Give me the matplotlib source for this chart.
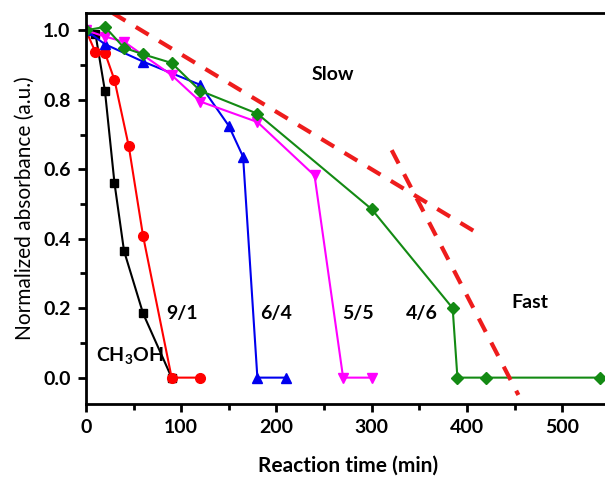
import matplotlib
matplotlib.use("Agg")
import matplotlib.pyplot as plt
from matplotlib.ticker import MultipleLocator

plt.rcParams['font.family'] = ['Lato', 'DejaVu Sans']
plt.rcParams['font.weight'] = 'bold'
plt.rcParams['mathtext.fontset'] = 'custom'
plt.rcParams['mathtext.bf'] = 'Lato:bold'
plt.rcParams['mathtext.rm'] = 'Lato:bold'
plt.rcParams['mathtext.default'] = 'bf'

# CH3OH
t_meoh = [0, 10, 20, 30, 40, 60, 90]
a_meoh = [1.0, 0.99, 0.825, 0.56, 0.365, 0.185, 0.0]
# 9/1
t_91 = [0, 10, 20, 30, 45, 60, 90, 120]
a_91 = [1.0, 0.937, 0.935, 0.857, 0.666, 0.408, 0.0, 0.0]
# 6/4
t_64 = [0, 20, 60, 120, 150, 165, 180, 210]
a_64 = [1.0, 0.96, 0.91, 0.843, 0.725, 0.636, 0.0, 0.0]
# 5/5
t_55 = [0, 20, 40, 90, 120, 180, 240, 270, 300]
a_55 = [1.0, 0.982, 0.967, 0.871, 0.795, 0.736, 0.582, 0.0, 0.0]
# 4/6
t_46 = [0, 20, 40, 60, 90, 120, 180, 300, 385, 390, 420, 540]
a_46 = [1.0, 1.01, 0.95, 0.931, 0.906, 0.826, 0.760, 0.485, 0.2, 0.0, 0.0, 0.0]

# guide lines
slow_t = [28, 411]
slow_a = [1.05, 0.416]
fast_t = [321, 454]
fast_a = [0.655, -0.05]

fig = plt.figure(figsize=(6.05, 4.8), dpi=100)
ax = fig.add_axes([0.142, 0.159, 0.866, 0.814])

ax.plot(t_meoh, a_meoh, '-s', color='black', lw=1.5, ms=6)
ax.plot(t_91, a_91, '-o', color='#ff0000', lw=1.5, ms=7)
ax.plot(t_64, a_64, '-^', color='#0000ee', lw=1.5, ms=7)
ax.plot(t_55, a_55, '-v', color='#ff00ff', lw=1.5, ms=7)
ax.plot(t_46, a_46, '-D', color='#138a13', lw=1.5, ms=6)

ax.plot(slow_t, slow_a, color='#ee1c1c', lw=3, dashes=(3.6, 2.9))
ax.plot(fast_t, fast_a, color='#ee1c1c', lw=3, dashes=(3.6, 2.9))

fs = 14
ax.text(259, 0.872, 'Slow', fontsize=fs, fontweight='bold', ha='center', va='center')
ax.text(466, 0.215, 'Fast', fontsize=fs, fontweight='bold', ha='center', va='center')
ax.text(46, 0.063, 'CH$_3$OH', fontsize=fs, fontweight='bold', ha='center', va='center')
ax.text(101, 0.185, '9/1', fontsize=fs, fontweight='bold', ha='center', va='center')
ax.text(200, 0.185, '6/4', fontsize=fs, fontweight='bold', ha='center', va='center')
ax.text(286, 0.185, '5/5', fontsize=fs, fontweight='bold', ha='center', va='center')
ax.text(353, 0.185, '4/6', fontsize=fs, fontweight='bold', ha='center', va='center')

ax.set_xlim(0, 550)
ax.set_ylim(-0.075, 1.05)
ax.xaxis.set_major_locator(MultipleLocator(100))
ax.xaxis.set_minor_locator(MultipleLocator(50))
ax.yaxis.set_major_locator(MultipleLocator(0.2))
ax.yaxis.set_minor_locator(MultipleLocator(0.1))
ax.tick_params(which='major', direction='out', length=6, width=2, labelsize=14, pad=5)
ax.tick_params(which='minor', direction='out', length=4, width=2)
for lab in ax.get_xticklabels() + ax.get_yticklabels():
    lab.set_fontweight('bold')
for s in ax.spines.values():
    s.set_linewidth(2)

ax.set_xlabel('Reaction time (min)', fontsize=15, fontweight='bold', labelpad=14)
ax.set_ylabel('Normalized absorbance (a.u.)', fontsize=15, fontweight='normal', labelpad=6)

fig.savefig('out.png', dpi=100)
